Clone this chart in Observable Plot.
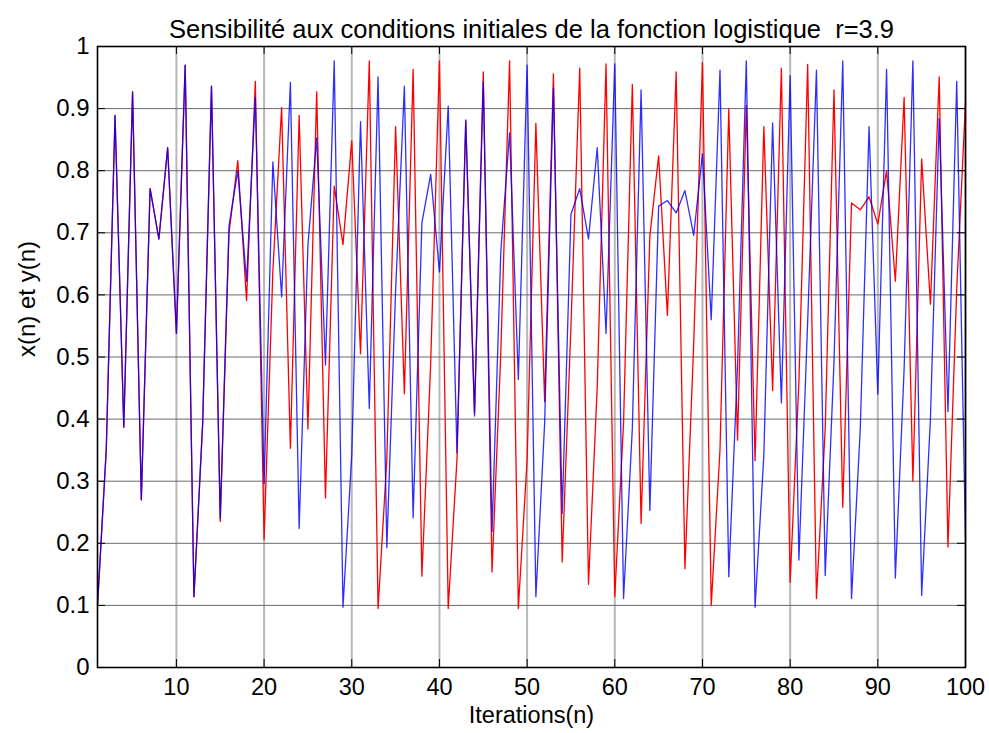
<!DOCTYPE html>
<html>
<head>
<meta charset="utf-8">
<script src="https://cdn.jsdelivr.net/npm/d3@7"></script>
<script src="https://cdn.jsdelivr.net/npm/@observablehq/plot@0.6"></script>
<style>
  html, body { margin: 0; padding: 0; background: #fff; }
  #chart svg { display: block; }
</style>
</head>
<body>
<div id="chart"></div>
<script>
// ---- data ----
const titleText = "Sensibilité aux conditions initiales de la fonction logistique  r=3.9";
const xLabelText = "Iterations(n)";
const yLabelText = "x(n) et y(n)";

const iterations = d3.range(1, 101);

// red series x(n)
const redValues = [
  0.1, 0.351, 0.889, 0.387, 0.927, 0.27, 0.771, 0.69, 0.837, 0.538,
  0.97, 0.114, 0.395, 0.936, 0.235, 0.70, 0.816, 0.591, 0.944, 0.206,
  0.638, 0.902, 0.353, 0.889, 0.384, 0.927, 0.273, 0.775, 0.681, 0.848,
  0.505, 0.977, 0.095, 0.335, 0.871, 0.441, 0.963, 0.147, 0.489, 0.977,
  0.095, 0.335, 0.88, 0.41, 0.959, 0.154, 0.508, 0.977, 0.095, 0.335,
  0.876, 0.428, 0.956, 0.17, 0.55, 0.965, 0.134, 0.453, 0.972, 0.114,
  0.394, 0.939, 0.232, 0.695, 0.824, 0.567, 0.959, 0.159, 0.521, 0.974,
  0.1, 0.351, 0.899, 0.366, 0.905, 0.333, 0.871, 0.446, 0.965, 0.137,
  0.461, 0.971, 0.111, 0.385, 0.93, 0.258, 0.748, 0.737, 0.758, 0.714,
  0.80, 0.622, 0.918, 0.3, 0.819, 0.585, 0.951, 0.194, 0.61, 0.91
];

// blue series y(n)
const blueValues = [
  0.1, 0.351, 0.889, 0.387, 0.927, 0.27, 0.771, 0.69, 0.837, 0.538,
  0.97, 0.114, 0.395, 0.936, 0.24, 0.711, 0.80, 0.622, 0.918, 0.296,
  0.814, 0.597, 0.942, 0.224, 0.68, 0.853, 0.487, 0.977, 0.097, 0.342,
  0.879, 0.417, 0.951, 0.193, 0.607, 0.936, 0.241, 0.716, 0.794, 0.637,
  0.904, 0.346, 0.882, 0.405, 0.942, 0.219, 0.67, 0.861, 0.464, 0.97,
  0.114, 0.394, 0.933, 0.248, 0.73, 0.771, 0.69, 0.837, 0.538, 0.972,
  0.111, 0.385, 0.93, 0.253, 0.743, 0.752, 0.732, 0.768, 0.696, 0.827,
  0.56, 0.962, 0.146, 0.486, 0.977, 0.097, 0.342, 0.877, 0.426, 0.953,
  0.173, 0.558, 0.962, 0.148, 0.492, 0.977, 0.111, 0.385, 0.871, 0.44,
  0.963, 0.144, 0.481, 0.977, 0.116, 0.4, 0.884, 0.412, 0.944, 0.209
];

const xTicks = [10, 20, 30, 40, 50, 60, 70, 80, 90, 100];
const yTicks = [0, 0.1, 0.2, 0.3, 0.4, 0.5, 0.6, 0.7, 0.8, 0.9, 1];
const yTickLabels = ["0", "0.1", "0.2", "0.3", "0.4", "0.5", "0.6", "0.7", "0.8", "0.9", "1"];
const xDomain = [1, 100];
const yDomain = [0, 1];

// ---- layout ----
const W = 989, H = 733;
const ML = 97, MR = 24, MT = 46, MB = 66;
const plotW = W - ML - MR;
const plotH = H - MT - MB;
const tickLen = 8;
const font = "'Liberation Sans', Arial, Helvetica, sans-serif";

const red = iterations.map((n, i) => ({n, v: redValues[i]}));
const blue = iterations.map((n, i) => ({n, v: blueValues[i]}));
const yLabelFor = (d) => yTickLabels[yTicks.indexOf(d)];

const chart = Plot.plot({
  width: W,
  height: H,
  marginLeft: ML,
  marginRight: MR,
  marginTop: MT,
  marginBottom: MB,
  style: {fontFamily: font, fontSize: "23.5px", color: "#000", background: "#fff"},
  x: {domain: xDomain},
  y: {domain: yDomain},
  marks: [
    Plot.gridX(xTicks, {stroke: "#b8b8b8", strokeOpacity: 1, strokeWidth: 2}),
    Plot.gridY(yTicks.slice(1, -1), {stroke: "#6a6a6a", strokeOpacity: 1, strokeWidth: 1}),
    Plot.line(red, {x: "n", y: "v", stroke: "#ff0000", strokeWidth: 1.3}),
    Plot.line(blue, {x: "n", y: "v", stroke: "#0000ff", strokeWidth: 1.3, strokeOpacity: 0.82}),
    // inward ticks, MATLAB style, on all four sides
    Plot.tickY(yTicks, {y: d => d, stroke: "#000", strokeWidth: 1, insetRight: plotW - tickLen}),
    Plot.tickY(yTicks, {y: d => d, stroke: "#000", strokeWidth: 1, insetLeft: plotW - tickLen}),
    Plot.tickX(xTicks, {x: d => d, stroke: "#000", strokeWidth: 1, insetTop: plotH - tickLen}),
    Plot.tickX(xTicks, {x: d => d, stroke: "#000", strokeWidth: 1, insetBottom: plotH - tickLen}),
    Plot.axisY(yTicks, {anchor: "left", tickSize: 0, tickPadding: 8, tickFormat: yLabelFor, label: null, fontSize: 24}),
    Plot.axisX(xTicks, {anchor: "bottom", tickSize: 0, tickPadding: 11, tickFormat: d => String(d), label: null, fontSize: 23.5}),
    Plot.frame({stroke: "#000", strokeWidth: 1.6}),
    Plot.text([titleText], {frameAnchor: "top", dy: -27, fontSize: 25.5, fill: "#000"}),
    Plot.text([xLabelText], {frameAnchor: "bottom", dy: 55, fontSize: 23.5, fill: "#000"}),
    Plot.text([yLabelText], {frameAnchor: "left", dx: -70, rotate: -90, fontSize: 24, fill: "#000"})
  ]
});

document.getElementById("chart").appendChild(chart);
</script>
</body>
</html>
